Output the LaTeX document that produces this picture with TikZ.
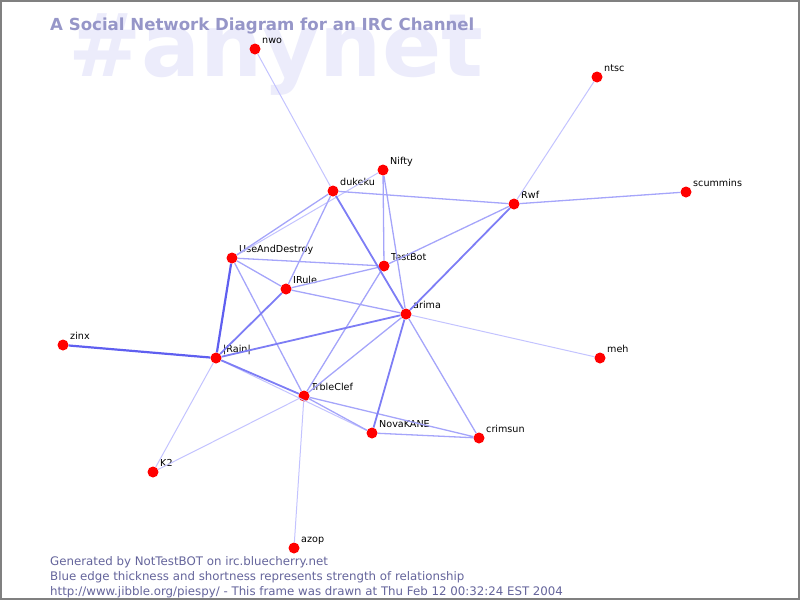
\documentclass[tikz,border=0pt]{standalone}
\usepackage{fontspec}
\setmainfont{DejaVu Sans}
\definecolor{nickred}{RGB}{255,0,0}
\definecolor{markgray}{RGB}{236,236,251}
\definecolor{titleblue}{RGB}{150,150,200}
\definecolor{footblue}{RGB}{100,100,155}
\definecolor{framegray}{RGB}{128,128,128}
\definecolor{tietight}{RGB}{95,95,240}
\definecolor{tiestrong}{RGB}{125,125,245}
\definecolor{tiemild}{RGB}{165,165,250}
\definecolor{tieweak}{RGB}{195,195,255}
\tikzset{
  user/.style={circle, fill=nickred, inner sep=0pt, minimum size=11pt},
  lab/.style={anchor=base west, inner sep=0pt, xshift=3pt, yshift=1.5pt, font=\fontsize{9.6}{11}\selectfont},
  foot/.style={anchor=base west, inner sep=0pt, text=footblue, font=\fontsize{11.8}{13}\selectfont},
  tight/.style={draw=tietight, line width=2.2pt},
  strong/.style={draw=tiestrong, line width=1.8pt},
  mild/.style={draw=tiemild, line width=1.3pt},
  weak/.style={draw=tieweak, line width=1pt}
}
\begin{document}
\begin{tikzpicture}[x=1pt, y=-1pt]
    \useasboundingbox (0,0) rectangle (800,600);
    \node[anchor=base west, inner sep=0pt, text=markgray, font=\fontsize{87.5}{88}\selectfont\bfseries] (mark) at (68,76) {\#anynet};
    \node[anchor=base west, inner sep=0pt, text=titleblue, font=\fontsize{16.6}{18}\selectfont\bfseries] (title) at (50,30) {A Social Network Diagram for an IRC Channel};

    \node[user, label={[lab]north east:nwo}] (nwo) at (255,49) {};
    \node[user, label={[lab]north east:ntsc}] (ntsc) at (597,77) {};
    \node[user, label={[lab]north east:Nifty}] (nifty) at (383,170) {};
    \node[user, label={[lab]north east:dukeku}] (dukeku) at (333,191) {};
    \node[user, label={[lab]north east:Rwf}] (rwf) at (514,204) {};
    \node[user, label={[lab]north east:scummins}] (scummins) at (686,192) {};
    \node[user, label={[lab]north east:UseAndDestroy}] (uad) at (232,258) {};
    \node[user, label={[lab]north east:TestBot}] (testbot) at (384,266) {};
    \node[user, label={[lab]north east:IRule}] (irule) at (286,289) {};
    \node[user, label={[lab]north east:arima}] (arima) at (406,314) {};
    \node[user, label={[lab]north east:zinx}] (zinx) at (63,345) {};
    \node[user, label={[lab]north east:|Rain|}] (rain) at (216,358) {};
    \node[user, label={[lab]north east:meh}] (meh) at (600,358) {};
    \node[user, label={[lab]north east:TrbleClef}] (trbleclef) at (304,396) {};
    \node[user, label={[lab]north east:NovaKANE}] (novakane) at (372,433) {};
    \node[user, label={[lab]north east:crimsun}] (crimsun) at (479,438) {};
    \node[user, label={[lab]north east:K2}] (k2) at (153,472) {};
    \node[user, label={[lab]north east:azop}] (azop) at (294,548) {};

    \draw[weak] (nwo) -- (dukeku) (ntsc) -- (rwf) (uad) -- (nifty)
        (rain) -- (novakane) (rain) -- (k2) (trbleclef) -- (k2)
        (trbleclef) -- (azop) (arima) -- (meh);
    \draw[mild] (uad) -- (dukeku) (nifty) -- (testbot) (nifty) -- (arima)
        (dukeku) -- (rwf) (dukeku) -- (irule) (rwf) -- (scummins)
        (rwf) -- (testbot) (uad) -- (testbot) (uad) -- (irule)
        (uad) -- (trbleclef) (irule) -- (testbot) (irule) -- (arima)
        (testbot) -- (trbleclef) (arima) -- (trbleclef) (arima) -- (crimsun)
        (trbleclef) -- (novakane) (trbleclef) -- (crimsun) (novakane) -- (crimsun);
    \draw[strong] (dukeku) -- (arima) (rwf) -- (arima) (rain) -- (arima)
        (irule) -- (rain) (rain) -- (trbleclef) (arima) -- (novakane);
    \draw[tight] (zinx) -- (rain) (uad) -- (rain);

    \node[foot] (gen) at (50,565) {Generated by NotTestBOT on irc.bluecherry.net};
    \node[foot] (legend) at (50,580) {Blue edge thickness and shortness represents strength of relationship};
    \node[foot] (stamp) at (50,595) {http://www.jibble.org/piespy/ - This frame was drawn at Thu Feb 12 00:32:24 EST 2004};

    \draw[framegray, line width=2pt] (1,1) rectangle (799,599);
\end{tikzpicture}
\end{document}
